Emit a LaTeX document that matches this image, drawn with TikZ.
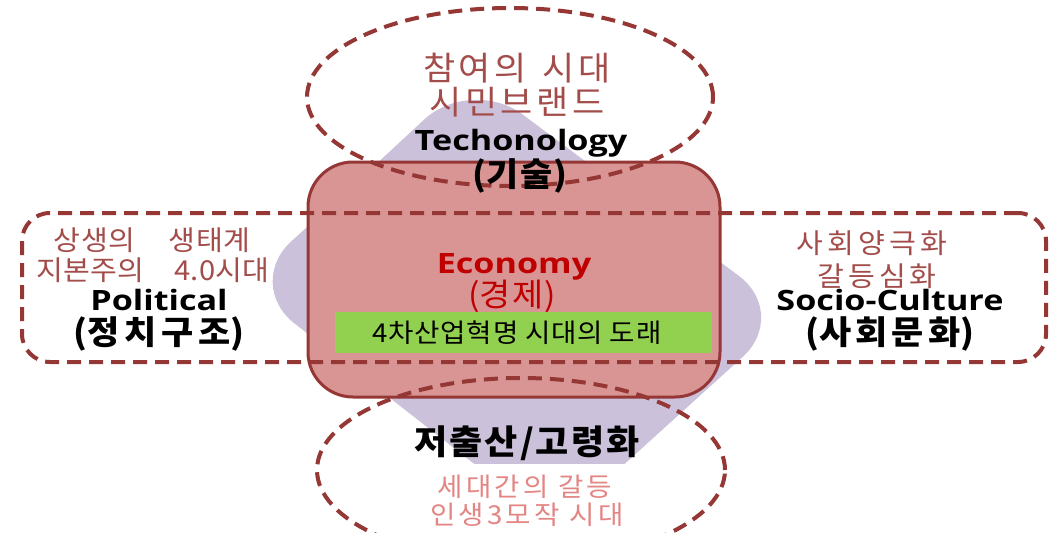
\documentclass[tikz,border=0pt]{standalone}
\usepackage{fontspec}
\usetikzlibrary{shapes.geometric}
\newfontfamily\kr{Noto Sans CJK KR}[FakeStretch=1.06]
\newfontfamily\lat{Open Sans}[FakeStretch=1.22]
\definecolor{dkred}{HTML}{953735}
\definecolor{boxred}{HTML}{D99594}
\definecolor{lav}{HTML}{CCC1DA}
\definecolor{grn}{HTML}{92D050}
\definecolor{ecored}{HTML}{C00000}
\definecolor{subred}{HTML}{A34D4B}
\definecolor{subpink}{HTML}{E38583}
\newcommand\lsp[1]{\addfontfeatures{LetterSpace=#1}}
\tikzset{
  dashedline/.style={draw=dkred, line width=4pt, dash pattern=on 14pt off 8pt},
  latb/.style={inner sep=0pt, anchor=base, font={\lat\bfseries\fontsize{28pt}{30pt}\selectfont}},
  ktx/.style args={#1/#2}{inner sep=0pt, font={\kr\fontsize{#1pt}{#1pt}\selectfont\addfontfeatures{LetterSpace=#2}}},
  ktb/.style args={#1/#2}{inner sep=0pt, font={\kr\bfseries\fontsize{#1pt}{#1pt}\selectfont\addfontfeatures{LetterSpace=#2}}},
}
\begin{document}
\begin{tikzpicture}[x=1pt, y=-1pt]
\useasboundingbox (0,0) rectangle (1050,533);
\fill[white] (0,0) rectangle (1050,533);
% lavender background shape
\begin{scope}
  \clip (0,0) rectangle (1050,463);
  \fill[lav, rounded corners=64pt] (357,182) -- (471,76) -- (790,314) -- (555,527) -- (244,284) -- cycle;
\end{scope}
% central box
\node[draw=dkred, fill=boxred, line width=3pt, rounded corners=45pt,
      minimum width=412pt, minimum height=235pt, inner sep=0pt] (ecobox) at (514,279.5) {};
\node[fill=grn, minimum width=377pt, minimum height=41pt, inner sep=0pt] (greenbar) at (523.5,332.5) {};
% dashed shapes
\node[dashedline, rounded corners=28pt, minimum width=1024pt, minimum height=149pt, inner sep=0pt] (sidebox) at (534,287.5) {};
\node[dashedline, ellipse, minimum width=406pt, minimum height=178pt, inner sep=0pt] (topell) at (510,97) {};
\node[dashedline, ellipse, minimum width=408pt, minimum height=184pt, inner sep=0pt] (botell) at (521,470) {};
% top texts
\node[ktx=33/11, text=subred] (t1) at (517,68) {참여의\hspace{16pt}시대};
\node[ktx=33/11, text=subred] (t2) at (517,102) {시민브랜드};
\node[latb] (t3) at (521,150) {Techonology};
\node[ktb=33/0] (t4) at (520,176) {(\lsp{6}기술\lsp{0})};
% center texts
\node[latb, text=ecored] (c1) at (514,273) {Economy};
\node[ktx=32/0, text=ecored] (c2) at (512,296) {(\lsp{6}경제\lsp{0})};
\node[ktx=26/3] (c3) at (517,333) {4차산업혁명 시대의 도래};
% left texts
\node[ktx=27.5/1, text=subred] (l1) at (152,240) {상생의\hspace{34pt}생태계};
\node[ktx=27.5/1, text=subred] (l2) at (153,270) {지본주의\hspace{30pt}4.0시대};
\node[latb] (l3) at (159,310) {Political};
\node[ktb=33/0] (l4) at (159,334) {(\lsp{14}정치구조\lsp{0})};
% right texts
\node[ktx=27.5/15, text=subred] (r1) at (872,243) {사회양극화};
\node[ktx=27.5/15, text=subred] (r2) at (877,276) {갈등심화};
\node[latb] (r3) at (890,310) {Socio-Culture};
\node[ktb=33/0] (r4) at (890,334) {(\lsp{12}사회문화\lsp{0})};
% bottom texts
\node[ktb=34/6] (b1) at (527,443) {저출산/고령화};
\node[ktx=26/12, text=subpink] (b2) at (525,487) {세대간의\hspace{10pt}갈등};
\node[ktx=26/12, text=subpink] (b3) at (527,515) {인생3모작\hspace{10pt}시대};
\end{tikzpicture}
\end{document}
